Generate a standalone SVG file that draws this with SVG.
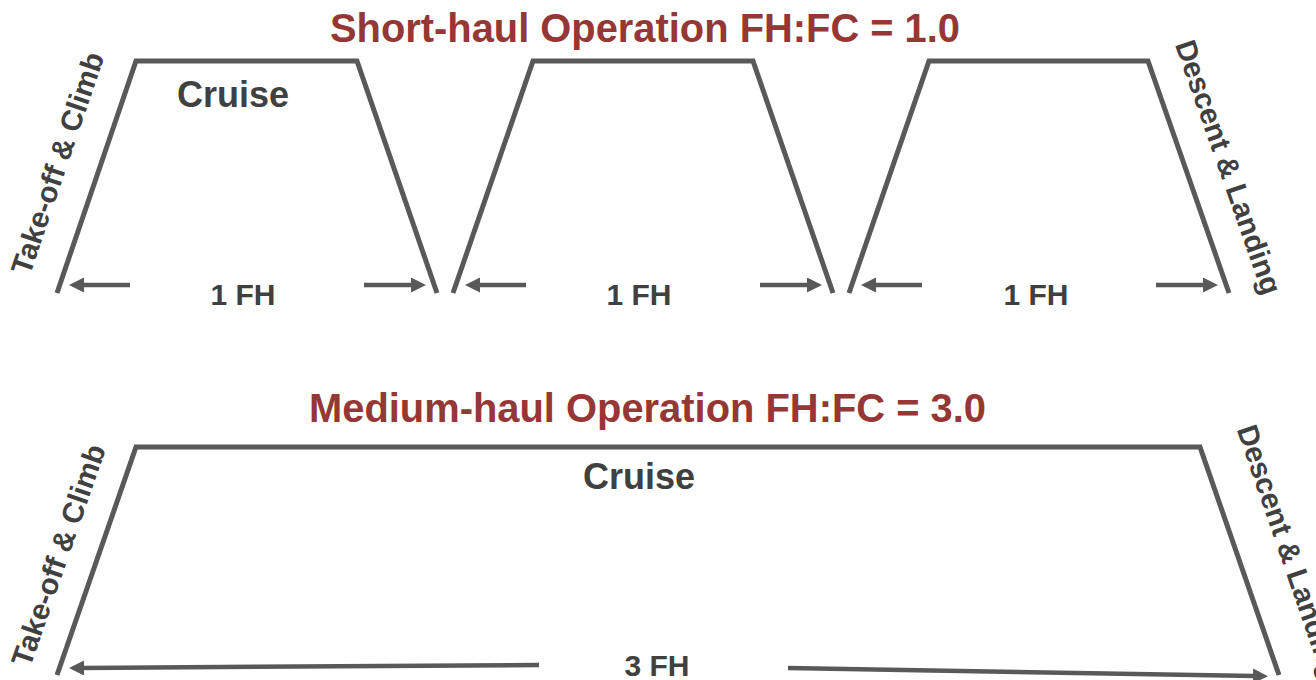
<svg xmlns="http://www.w3.org/2000/svg" width="1316" height="680" viewBox="0 0 1316 680">
  <style>
    .leg { fill: none; stroke: #595959; stroke-width: 5; stroke-linejoin: miter; }
    .arr { stroke: #595959; stroke-width: 4.5; fill: none; }
    .title { font-family: "Liberation Sans", Arial, sans-serif; font-weight: bold; font-size: 40px; fill: #953735; }
    .lbl { font-family: "Liberation Sans", Arial, sans-serif; font-weight: bold; fill: #404040; }
    .phase { font-size: 29.5px; }
    .cruise { font-size: 36px; }
    .fh { font-size: 30px; }
  </style>
  <defs>
    <marker id="head" markerUnits="userSpaceOnUse" markerWidth="16" markerHeight="16" refX="2" refY="7.5" orient="auto">
      <path d="M0,0 L15,7.5 L0,15 z" fill="#595959"/>
    </marker>
  </defs>
  <rect width="1316" height="680" fill="#ffffff"/>

  <!-- titles -->
  <text class="title" x="330" y="42" textLength="630" lengthAdjust="spacingAndGlyphs">Short-haul Operation FH:FC = 1.0</text>
  <text class="title" x="309" y="422" textLength="677" lengthAdjust="spacingAndGlyphs">Medium-haul Operation FH:FC = 3.0</text>

  <!-- short-haul flight profiles -->
  <g id="flight1">
    <polyline class="leg" points="57,293 136,61 357,61 437,293"/>
    <text class="lbl cruise" x="233" y="107" text-anchor="middle">Cruise</text>
    <text class="lbl phase" text-anchor="middle" transform="translate(57,163) rotate(-71.2)" dy="0.36em">Take-off &amp; Climb</text>
    <text class="lbl fh" x="243" y="305" text-anchor="middle">1 FH</text>
  </g>
  <g id="flight2">
    <polyline class="leg" points="453,293 533,61 753,61 833,293"/>
    <text class="lbl fh" x="639" y="305" text-anchor="middle">1 FH</text>
  </g>
  <g id="flight3">
    <polyline class="leg" points="849,293 929,61 1148,61 1229,293"/>
    <text class="lbl phase" text-anchor="middle" transform="translate(1229,167) rotate(70.7)" dy="0.36em">Descent &amp; Landing</text>
    <text class="lbl fh" x="1036" y="305" text-anchor="middle">1 FH</text>
  </g>

  <!-- medium-haul flight profile -->
  <g id="flight4">
    <polyline class="leg" points="57,675 136,447 1200,447 1279,675"/>
    <text class="lbl cruise" x="639" y="489" text-anchor="middle">Cruise</text>
    <text class="lbl phase" text-anchor="middle" transform="translate(58,555) rotate(-70.9)" dy="0.36em">Take-off &amp; Climb</text>
    <text class="lbl phase" text-anchor="middle" transform="translate(1290,552) rotate(71)" dy="0.36em">Descent &amp; Landing</text>
    <text class="lbl fh" x="657" y="676" text-anchor="middle">3 FH</text>
  </g>

  <!-- duration arrows -->
  <g id="connectors">
    <line class="arr" x1="130" y1="285" x2="82" y2="285" marker-end="url(#head)"/>
    <line class="arr" x1="364" y1="285" x2="413" y2="285" marker-end="url(#head)"/>
    <line class="arr" x1="526" y1="285" x2="478" y2="285" marker-end="url(#head)"/>
    <line class="arr" x1="760" y1="285" x2="809" y2="285" marker-end="url(#head)"/>
    <line class="arr" x1="922" y1="285" x2="874" y2="285" marker-end="url(#head)"/>
    <line class="arr" x1="1156" y1="285" x2="1205" y2="285" marker-end="url(#head)"/>
    <line class="arr" x1="539" y1="665" x2="82" y2="668" marker-end="url(#head)"/>
    <line class="arr" x1="788" y1="668" x2="1255" y2="676" marker-end="url(#head)"/>
  </g>
</svg>
